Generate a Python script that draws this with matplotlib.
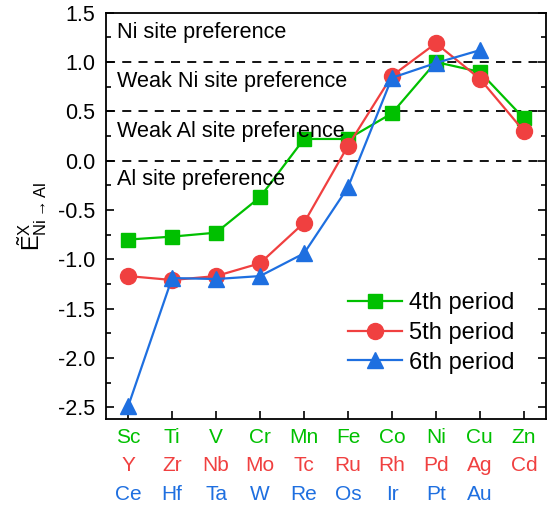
import numpy as np
import matplotlib
matplotlib.use("Agg")
import matplotlib.pyplot as plt
import matplotlib.transforms as mtransforms
from matplotlib.ticker import MultipleLocator

plt.rcParams['font.family'] = ['Liberation Sans', 'DejaVu Sans']
plt.rcParams['mathtext.fontset'] = 'custom'
plt.rcParams['mathtext.rm'] = 'Liberation Sans'
plt.rcParams['mathtext.it'] = 'Liberation Sans'

# element labels per period
period4 = ['Sc', 'Ti', 'V', 'Cr', 'Mn', 'Fe', 'Co', 'Ni', 'Cu', 'Zn']
period5 = ['Y', 'Zr', 'Nb', 'Mo', 'Tc', 'Ru', 'Rh', 'Pd', 'Ag', 'Cd']
period6 = ['Ce', 'Hf', 'Ta', 'W', 'Re', 'Os', 'Ir', 'Pt', 'Au']

# values
e4 = [-0.80, -0.77, -0.73, -0.37, 0.22, 0.22, 0.48, 1.00, 0.90, 0.43]
e5 = [-1.17, -1.21, -1.17, -1.04, -0.63, 0.15, 0.86, 1.19, 0.83, 0.30]
e6 = [-2.49, -1.19, -1.20, -1.17, -0.94, -0.27, 0.84, 0.99, 1.12]

regions = ['Ni site preference', 'Weak Ni site preference',
           'Weak Al site preference', 'Al site preference']
region_y = [1.30, 0.80, 0.30, -0.19]
boundaries = [1.0, 0.5, 0.0]

c4, c5, c6 = '#00C000', '#F04040', '#1E6FE0'

fig = plt.figure(figsize=(5.53, 5.08), dpi=100)
ax = fig.add_axes([0.192, 0.175, 0.795, 0.80])

for b in boundaries:
    ax.axhline(b, color='black', linestyle=(0, (5, 4)), linewidth=1.3, zorder=1)

ax.plot(np.arange(len(e4)), e4, color=c4, marker='s', markersize=10,
        linewidth=1.6, label='4th period', zorder=3)
ax.plot(np.arange(len(e5)), e5, color=c5, marker='o', markersize=11.5,
        linewidth=1.6, label='5th period', zorder=3)
ax.plot(np.arange(len(e6)), e6, color=c6, marker='^', markersize=12,
        linewidth=1.6, label='6th period', zorder=4)

for txt, y in zip(regions, region_y):
    ax.text(0.025, y, txt, transform=mtransforms.blended_transform_factory(ax.transAxes, ax.transData),
            fontsize=15.6, va='center', ha='left')

ax.set_xlim(-0.5, 9.5)
ax.set_ylim(-2.62, 1.5)
ax.yaxis.set_minor_locator(MultipleLocator(0.25))
ax.set_yticks(np.arange(-2.5, 1.51, 0.5))
ax.set_yticklabels(['%.1f' % v for v in np.arange(-2.5, 1.51, 0.5)], fontsize=15.5)
ax.set_xticks(np.arange(10))
ax.set_xticklabels([])
ax.tick_params(axis='both', which='both', direction='in', top=False, right=True)
ax.tick_params(axis='y', which='major', length=6, width=1.2, pad=8)
ax.tick_params(axis='y', which='minor', length=3.5, width=1.2)
ax.tick_params(axis='x', which='major', length=6, width=1.2)
for s in ax.spines.values():
    s.set_linewidth(1.3)

trans = mtransforms.blended_transform_factory(ax.transData, ax.transAxes)
for labels, col, yy in [(period4, c4, -0.045), (period5, c5, -0.113), (period6, c6, -0.186)]:
    for i, lab in enumerate(labels):
        ax.text(i, yy, lab, transform=trans, color=col, fontsize=15,
                ha='center', va='center')

ax.set_ylabel(r'$\tilde{\mathrm{E}}^{\mathrm{X}}_{\mathrm{Ni\rightarrow Al}}$', fontsize=17, labelpad=6)

ax.legend(loc='lower left', bbox_to_anchor=(0.55, 0.112), frameon=False,
          fontsize=17, handlelength=2.3, handletextpad=0.3, labelspacing=0.32,
          borderaxespad=0, borderpad=0)

fig.savefig('out.png', dpi=100)
